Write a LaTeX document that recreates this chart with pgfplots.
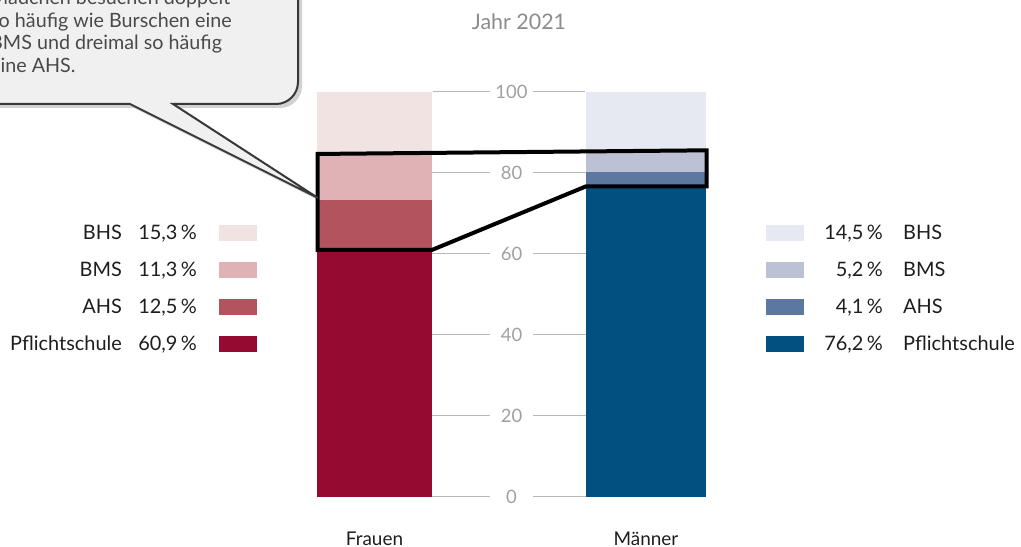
\documentclass[border=0pt]{standalone}
\usepackage{pgfplots}
\pgfplotsset{compat=1.18}
\usepackage{fontspec}
\setmainfont{Lato}
\usetikzlibrary{shadows}
\definecolor{fP}{HTML}{940A30}
\definecolor{fA}{HTML}{B2535D}
\definecolor{fM}{HTML}{DFB3B5}
\definecolor{fH}{HTML}{F2E3E3}
\definecolor{mP}{HTML}{02507F}
\definecolor{mA}{HTML}{5C77A0}
\definecolor{mM}{HTML}{BCC1D6}
\definecolor{mH}{HTML}{E6E9F1}
\definecolor{tickgray}{HTML}{A0A0A0}
\definecolor{gridgray}{HTML}{B8B8B8}
\definecolor{titlegray}{HTML}{8C8C8C}
\definecolor{legtext}{HTML}{1E1E1E}
\definecolor{callfill}{HTML}{F0F0F0}
\definecolor{calldraw}{HTML}{383838}
\definecolor{calltext}{HTML}{4A4A4A}
\begin{document}
\begin{tikzpicture}
\useasboundingbox (0,0) rectangle (1021bp,547bp);
% grid lines (y = 50 + 4.05*value, in bp)
\begin{scope}[x=1bp, y=1bp]
\foreach \v in {0,20,40,60,80}{
  \draw[gridgray, line width=1bp] (358,50+4.05*\v) -- (490,50+4.05*\v);
  \draw[gridgray, line width=1bp] (533,50+4.05*\v) -- (693,50+4.05*\v);
}
\draw[gridgray, line width=1bp] (433,455) -- (490,455);
\draw[gridgray, line width=1bp] (533,455) -- (585,455);
\end{scope}
\begin{axis}[at={(0,0)}, anchor=south west, scale only axis,
  width=1021bp, height=547bp,
  xmin=0, xmax=1021, ymin=-12.345679, ymax=122.716049,
  axis line style={draw=none}, major tick length=0pt, ytick=\empty,
  xtick={374.5,646}, xticklabels={Frauen,Männer},
  xticklabel style={anchor=base, yshift=2bp, font=\fontsize{19}{22}\selectfont, text=legtext},
  ybar stacked, bar width=115, clip=false]
\pgfplotsinvokeforeach{0,20,40,60,80,100}{
  \node[text=tickgray, font=\fontsize{18.5}{22}\selectfont] at (axis cs:511.5,#1) {#1};
}
% Pflichtschule
\addplot[fill=fP, draw=none] coordinates {(374.5,60.9) (646,0)};
\addplot[fill=mP, draw=none, bar width=120] coordinates {(374.5,0) (646,76.2)};
% AHS
\addplot[fill=fA, draw=none] coordinates {(374.5,12.5) (646,0)};
\addplot[fill=mA, draw=none, bar width=120] coordinates {(374.5,0) (646,4.1)};
% BMS
\addplot[fill=fM, draw=none] coordinates {(374.5,11.3) (646,0)};
\addplot[fill=mM, draw=none, bar width=120] coordinates {(374.5,0) (646,5.2)};
% BHS
\addplot[fill=fH, draw=none] coordinates {(374.5,15.3) (646,0)};
\addplot[fill=mH, draw=none, bar width=120] coordinates {(374.5,0) (646,14.5)};
% highlight outline corners
\coordinate (H1) at (axis cs:317.5,84.7);
\coordinate (H2) at (axis cs:706.5,85.6);
\coordinate (H3) at (axis cs:706.5,76.7);
\coordinate (H4) at (axis cs:586,76.7);
\coordinate (H5) at (axis cs:432,61.0);
\coordinate (H6) at (axis cs:317.5,61.0);
\end{axis}
\draw[black, line width=4bp, line join=miter] (H1) -- (H2) -- (H3) -- (H4) -- (H5) -- (H6) -- cycle;
\begin{scope}[x=1bp, y=1bp]
  % title
  \node[anchor=base, inner sep=0, text=titlegray, font=\fontsize{21.5}{24}\selectfont] at (519,517) {Jahr 2021};
  % left legend
  \begin{scope}[every node/.style={inner sep=0, text=legtext, font=\fontsize{20}{22}\selectfont}]
    \node[anchor=base east] at (122,308) {BHS};
    \node[anchor=base east] at (197,308) {15,3\,\%};
    \fill[fH] (219,306) rectangle (257,322);
    \node[anchor=base east] at (122,271) {BMS};
    \node[anchor=base east] at (197,271) {11,3\,\%};
    \fill[fM] (219,269) rectangle (257,285);
    \node[anchor=base east] at (122,234) {AHS};
    \node[anchor=base east] at (197,234) {12,5\,\%};
    \fill[fA] (219,232) rectangle (257,248);
    \node[anchor=base east] at (122,197) {Pflichtschule};
    \node[anchor=base east] at (197,197) {60,9\,\%};
    \fill[fP] (219,195) rectangle (257,211);
    % right legend
    \fill[mH] (766,306) rectangle (804,322);
    \node[anchor=base east] at (883,308) {14,5\,\%};
    \node[anchor=base west] at (903,308) {BHS};
    \fill[mM] (766,269) rectangle (804,285);
    \node[anchor=base east] at (883,271) {5,2\,\%};
    \node[anchor=base west] at (903,271) {BMS};
    \fill[mA] (766,232) rectangle (804,248);
    \node[anchor=base east] at (883,234) {4,1\,\%};
    \node[anchor=base west] at (903,234) {AHS};
    \fill[mP] (766,195) rectangle (804,211);
    \node[anchor=base east] at (883,197) {76,2\,\%};
    \node[anchor=base west] at (903,197) {Pflichtschule};
  \end{scope}
  % callout
  \begin{scope}
    \clip (0,0) rectangle (1021,547);
    \filldraw[fill=callfill, draw=calldraw, line width=2bp,
      drop shadow={shadow xshift=4bp, shadow yshift=-4bp, opacity=0.18, fill=black}]
      (130,443) -- (318,349) -- (173,443) -- (276,443)
      arc[start angle=-90, end angle=0, radius=22] -- (298,620) -- (-60,620) -- (-60,443) -- cycle;
    \begin{scope}[every node/.style={inner sep=0, anchor=base west, text=calltext, font=\fontsize{19.8}{22}\selectfont}]
      \node at (-10,542) {Mädchen besuchen doppelt};
      \node at (-10,519.5) {so häufig wie Burschen eine};
      \node at (-10,497) {BMS und dreimal so häufig};
      \node at (-10,474.5) {eine AHS.};
    \end{scope}
  \end{scope}
\end{scope}
\end{tikzpicture}
\end{document}
